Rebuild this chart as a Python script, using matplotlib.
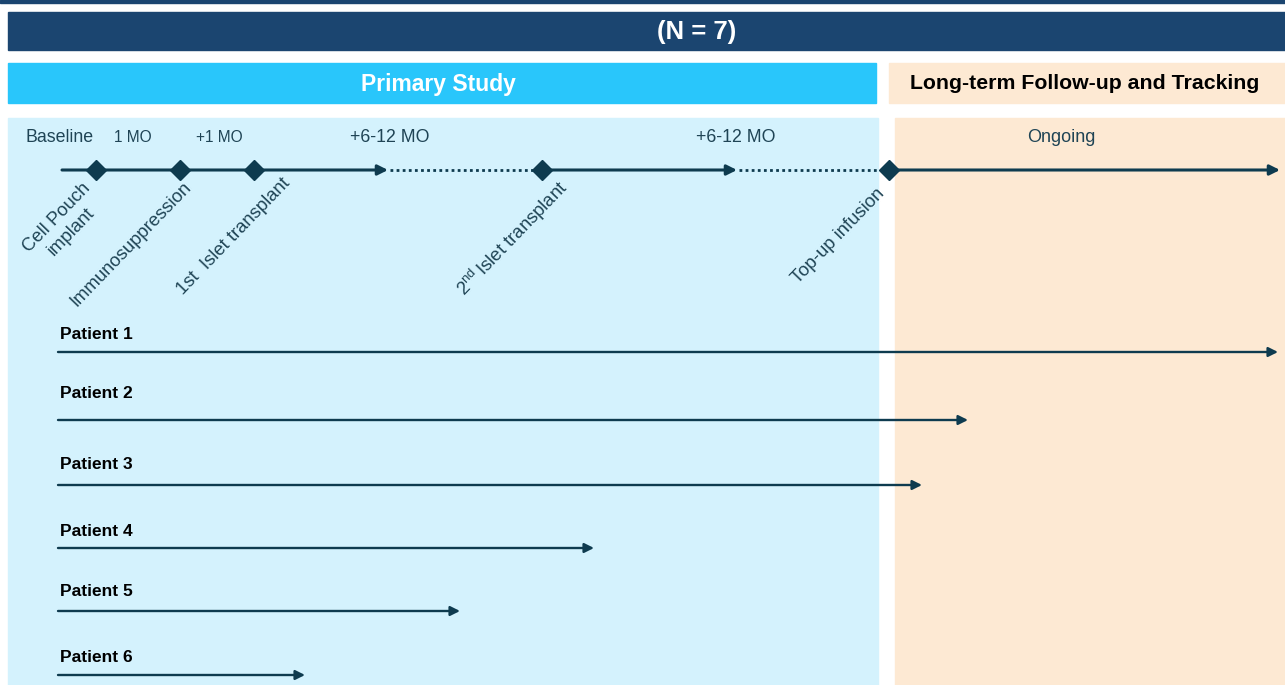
import matplotlib.pyplot as plt
from matplotlib.patches import Rectangle

plt.rcParams['font.family'] = ['Liberation Sans', 'DejaVu Sans']
plt.rcParams['mathtext.fontset'] = 'custom'
plt.rcParams['mathtext.rm'] = 'Liberation Sans'

# timeline milestones (schematic x position on the study scale)
milestones = ['Cell Pouch\nimplant', 'Immunosuppression', '1st  Islet transplant',
              '2$^{\\rm nd}\\,$Islet transplant', 'Top-up infusion']
milestone_x = [96, 180, 254, 542, 889]

# time labels above the timeline
period_labels = ['Baseline', '1 MO', '+1 MO', '+6-12 MO', '+6-12 MO', 'Ongoing']
period_x = [60, 133, 219, 390, 736, 1061]

# patients and how far each one got along the scale
patients = ['Patient 1', 'Patient 2', 'Patient 3', 'Patient 4', 'Patient 5', 'Patient 6']
patient_end = [1278, 968, 922, 594, 460, 305]

navy = '#1b4570'
sky = '#29c6fb'
pale_blue = '#d4f2fd'
peach = '#fde9d3'
ink = '#0e3b4f'

fig = plt.figure(figsize=(12.85, 6.85), dpi=100)
ax = fig.add_axes([0, 0, 1, 1])
ax.set_xlim(0, 1285)
ax.set_ylim(685, 0)
ax.axis('off')

# header bands
ax.add_patch(Rectangle((0, 0), 1285, 3, color=navy))
ax.add_patch(Rectangle((8, 12), 1277, 38, color=navy))
ax.text(697, 32, '(N = 7)', color='white', fontsize=18.5, fontweight='bold', ha='center', va='center')
ax.add_patch(Rectangle((8, 63), 868, 40, color=sky))
ax.text(438, 84, 'Primary Study', color='white', fontsize=16.5, fontweight='bold', ha='center', va='center')
ax.add_patch(Rectangle((889, 63), 396, 40, color=peach))
ax.text(1085, 83, 'Long-term Follow-up and Tracking', color='black', fontsize=15.3,
        fontweight='bold', ha='center', va='center')

# background panels
ax.add_patch(Rectangle((8, 118), 870, 567, color=pale_blue))
ax.add_patch(Rectangle((895, 118), 390, 567, color=peach))

# timeline
ty = 170
arrow = dict(arrowstyle='-|>', color=ink, lw=2.2, mutation_scale=15, shrinkA=0, shrinkB=0)
ax.annotate('', xy=(388, ty), xytext=(62, ty), arrowprops=arrow)
ax.plot([390, milestone_x[3]], [ty, ty], color=ink, lw=2, ls=(0, (1, 1.2)))
ax.annotate('', xy=(737, ty), xytext=(milestone_x[3], ty), arrowprops=arrow)
ax.plot([739, milestone_x[4]], [ty, ty], color=ink, lw=2, ls=(0, (1, 1.2)))
ax.annotate('', xy=(1280, ty), xytext=(milestone_x[4], ty), arrowprops=arrow)
ax.plot(milestone_x, [ty] * len(milestone_x), ls='none', marker='D', markersize=10.5, color=ink, zorder=5)

label_offsets = [(-14, 10), (2, 9), (27, 5), (14, 6), (-13, 15)]
for name, x, (dx, dy) in zip(milestones, milestone_x, label_offsets):
    ax.text(x + dx, ty + dy, name, rotation=46, rotation_mode='anchor', ha='right', va='top',
            multialignment='center', fontsize=13.3, color='#1f4455')

period_sizes = [12.8, 11.2, 11.2, 12.8, 12.8, 13]
for lab, x, fs in zip(period_labels, period_x, period_sizes):
    ax.text(x, 137, lab, ha='center', va='center', fontsize=fs, color='#1f4455')

# patient follow-up arrows
row_y = [352, 420, 485, 548, 611, 675]
label_y = [334, 393, 464, 531, 592, 658]
parrow = dict(arrowstyle='-|>', color=ink, lw=1.7, mutation_scale=14, shrinkA=0, shrinkB=0)
for name, end, y, ly in zip(patients, patient_end, row_y, label_y):
    ax.annotate('', xy=(end, y), xytext=(58, y), arrowprops=parrow)
    ax.text(60, ly, name, ha='left', va='center', fontsize=12.5, fontweight='bold', color='black')

fig.savefig('out.png', dpi=100)
